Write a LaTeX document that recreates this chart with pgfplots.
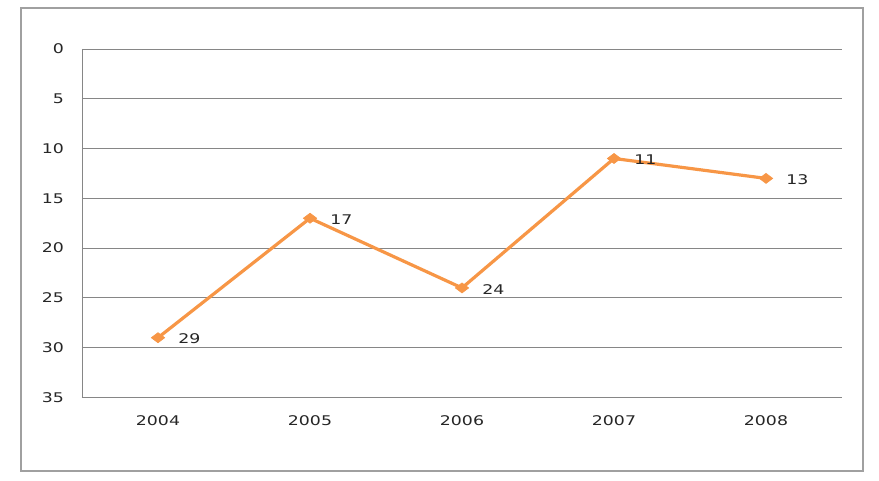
\documentclass[border=0pt]{standalone}
\usepackage{pgfplots}
\pgfplotsset{compat=1.18}
\usepackage{fontspec}
\setmainfont{DejaVu Sans}[FakeStretch=1.3]
\definecolor{exorange}{RGB}{247,150,70}
\definecolor{gridgray}{RGB}{134,134,134}
\definecolor{boxgray}{RGB}{160,160,160}
\begin{document}
\begin{tikzpicture}
\path (0pt,0pt) rectangle (659.25pt,360pt);
\draw[boxgray, line width=1.5pt] (15.4pt,6.75pt) rectangle (647.25pt,354pt);
\begin{axis}[
  at={(61.5pt,61.9pt)}, anchor=south west,
  scale only axis,
  width=570pt, height=261.4pt,
  xmin=-0.5, xmax=4.5,
  ymin=0, ymax=35, y dir=reverse,
  ytick={0,5,...,35},
  xtick={0,1,2,3,4},
  xticklabels={2004,2005,2006,2007,2008},
  major x tick style={draw=none},
  extra x ticks={0.5,1.5,2.5,3.5,4.5},
  extra x tick labels={},
  extra x tick style={major tick length=4pt, tick align=inside, tick style={gridgray}, grid=none},
  major y tick style={draw=none},
  ymajorgrids, grid style={gridgray, line width=0.6pt},
  axis x line*=bottom, axis y line*=left,
  axis line style={gridgray, line width=0.6pt, -},
  /pgf/number format/assume math mode=true,
  tick label style={font=\fontsize{10}{12}\selectfont, text=black!85},
  yticklabel style={xshift=-10pt},
  xticklabel style={yshift=-10pt},
  clip=false,
]
\addplot[exorange, line width=2.4pt, mark=diamond*, mark size=5pt,
  mark options={fill=exorange, line width=0.5pt, rotate=90},
  nodes near coords, point meta=explicit,
  every node near coord/.style={anchor=west, inner sep=0pt, xshift=15pt, yshift=-1pt, font=\fontsize{10}{12}\selectfont, text=black!85}]
  coordinates {(0,29) [29] (1,17) [17] (2,24) [24] (3,11) [11] (4,13) [13]};
\end{axis}
\end{tikzpicture}
\end{document}
